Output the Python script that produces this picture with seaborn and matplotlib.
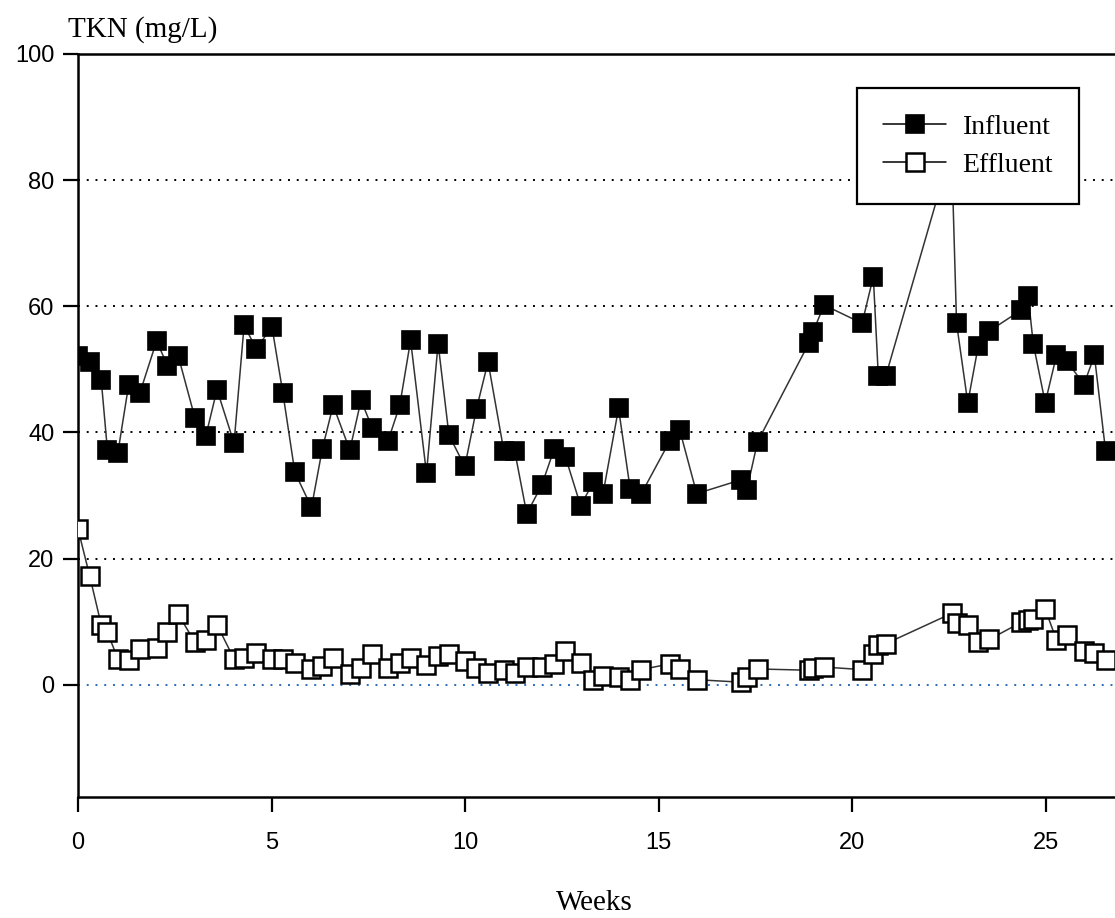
import numpy as np
import pandas as pd
import seaborn as sns
import matplotlib.pyplot as plt

# sampling times (weeks) shared by both series
weeks = [0.0, 0.3, 0.6, 0.76, 1.03, 1.31, 1.6, 2.03, 2.31, 2.59,
         3.02, 3.3, 3.59, 4.03, 4.29, 4.6, 5.01, 5.29, 5.6, 6.03,
         6.31, 6.59, 7.02, 7.31, 7.6, 8.01, 8.31, 8.59, 9.0, 9.3,
         9.58, 9.99, 10.29, 10.59, 11.0, 11.28, 11.59, 11.98, 12.3, 12.59,
         12.98, 13.31, 13.56, 13.96, 14.26, 14.55, 15.28, 15.54, 15.98, 17.13,
         17.27, 17.55, 18.88, 18.98, 19.27, 20.25, 20.54, 20.67, 20.86, 22.56,
         22.69, 22.98, 23.25, 23.54, 24.36, 24.54, 24.67, 24.98, 25.27, 25.54,
         25.98, 26.25, 26.54]

influent = [52.1, 51.2, 48.3, 37.2, 36.8, 47.6, 46.3, 54.5, 50.6, 52.1,
            42.3, 39.4, 46.8, 38.3, 57.0, 53.3, 56.7, 46.3, 33.7, 28.1,
            37.4, 44.3, 37.2, 45.1, 40.7, 38.7, 44.3, 54.6, 33.5, 54.1,
            39.6, 34.6, 43.7, 51.2, 37.0, 37.0, 27.1, 31.7, 37.4, 36.1,
            28.4, 32.1, 30.3, 43.8, 31.1, 30.3, 38.6, 40.4, 30.3, 32.5,
            30.8, 38.5, 54.2, 55.9, 60.2, 57.3, 64.7, 48.9, 48.9, 85.0,
            57.3, 44.7, 53.7, 56.1, 59.4, 61.6, 54.1, 44.7, 52.2, 51.3,
            47.6, 52.2, 37.0]

effluent = [24.7, 17.3, 9.5, 8.3, 4.1, 4.0, 5.6, 5.9, 8.3, 11.2,
            6.7, 7.1, 9.5, 4.1, 4.3, 5.1, 4.1, 4.1, 3.5, 2.5,
            2.9, 4.3, 1.7, 2.6, 4.8, 2.6, 3.4, 4.2, 3.2, 4.6,
            4.8, 3.7, 2.7, 1.9, 2.3, 1.9, 2.8, 2.8, 3.3, 5.4,
            3.4, 0.8, 1.4, 1.2, 0.8, 2.4, 3.3, 2.5, 0.8, 0.4,
            1.2, 2.5, 2.3, 2.6, 2.8, 2.4, 4.9, 6.3, 6.5, 11.3,
            9.8, 9.4, 6.7, 7.2, 9.9, 10.2, 10.4, 12.0, 7.1, 7.9,
            5.3, 5.0, 4.0]

yticks = [0, 20, 40, 60, 80, 100]
xticks = [0, 5, 10, 15, 20, 25]

df = pd.DataFrame({"Weeks": weeks, "Influent": influent, "Effluent": effluent})

sns.set_theme(style="ticks")
plt.rcParams['font.family'] = ['Liberation Sans', 'DejaVu Sans']
plt.rcParams['text.color'] = 'black'
serif = ['Liberation Serif', 'DejaVu Serif']

W, H = 1115, 918
left, right_px, top, bottom = 78, 1140, 54, 797   # axes extends past the cropped right edge
fig = plt.figure(figsize=(W / 100, H / 100), dpi=100)
ax = fig.add_axes([left / W, 1 - bottom / H, (right_px - left) / W, (bottom - top) / H])

# dotted reference lines
for y in yticks[1:-1]:
    ax.axhline(y, color='black', linestyle=(0, (1, 3.5)), linewidth=1.4, zorder=1)
ax.axhline(0, color='#2a6cb8', linestyle=(0, (1, 3.5)), linewidth=1.4, zorder=1)

sns.lineplot(data=df, x="Weeks", y="Influent", sort=False, ax=ax,
             color='#333333', linewidth=1.1, marker='s', markersize=13,
             markerfacecolor='black', markeredgecolor='black', markeredgewidth=1.2,
             label='Influent', zorder=3)
sns.lineplot(data=df, x="Weeks", y="Effluent", sort=False, ax=ax,
             color='#333333', linewidth=1.1, marker='s', markersize=13,
             markerfacecolor='white', markeredgecolor='black', markeredgewidth=1.8,
             label='Effluent', zorder=3)

px_per_week = (1046 - left) / 25
ax.set_xlim(0, (right_px - left) / px_per_week)
ax.set_ylim(-17.8, 100)
ax.set_xticks(xticks)
ax.set_yticks(yticks)
ax.tick_params(axis='both', direction='out', length=11, width=1.6, colors='black',
               labelsize=17, pad=6)
ax.tick_params(axis='x', pad=14)
ax.set_xlabel('')
ax.set_ylabel('')

for s in ['left', 'bottom', 'top']:
    ax.spines[s].set_linewidth(1.8)
    ax.spines[s].set_color('black')
ax.spines['right'].set_visible(False)

leg = ax.legend(loc='upper left',
                bbox_to_anchor=((857 - left) / (right_px - left), (bottom - 88) / (bottom - top)),
                frameon=True, fancybox=False, framealpha=1, edgecolor='black',
                prop={'family': serif, 'size': 20}, handlelength=2.25,
                borderpad=0.95, labelspacing=0.45, handletextpad=0.6, borderaxespad=0)
leg.get_frame().set_linewidth(1.6)
for h in leg.legend_handles:
    h.set_markersize(13)
    h.set_color('black')
leg.set_zorder(10)

fig.text(68 / W, 1 - 30 / H, 'TKN (mg/L)', family=serif, fontsize=21,
         ha='left', va='center')
fig.text(594 / W, 1 - 903 / H, 'Weeks', family=serif, fontsize=21,
         ha='center', va='center')

fig.savefig('out.png', dpi=100)
